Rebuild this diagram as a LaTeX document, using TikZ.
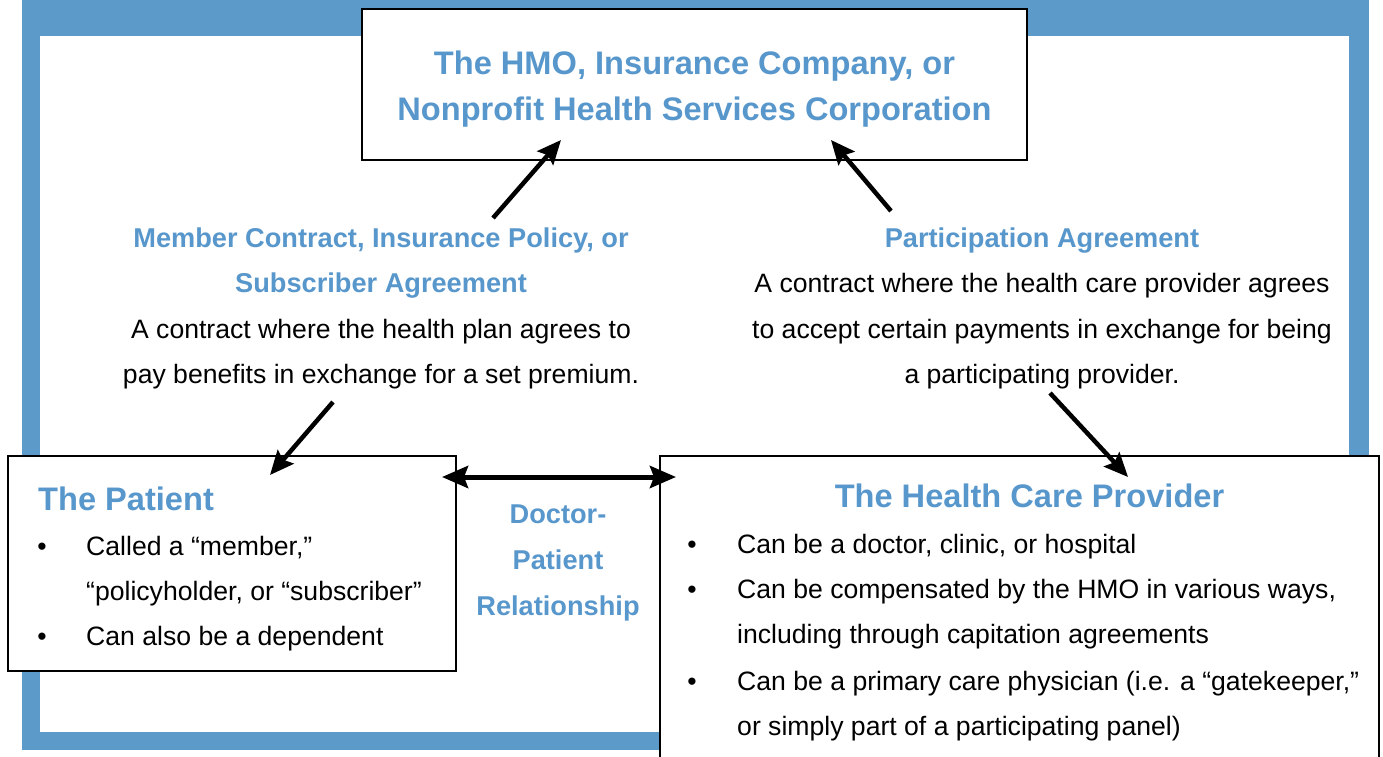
\documentclass[tikz,border=0pt]{standalone}
\usepackage{fontspec}
\setmainfont{Liberation Sans}
\usetikzlibrary{arrows.meta}
\definecolor{frameblue}{RGB}{91,154,201}
\definecolor{textblue}{RGB}{88,151,204}
\begin{document}
\begin{tikzpicture}[x=1pt,y=-1pt,
 box/.style={draw=black,line width=2.2pt,fill=white,inner sep=0pt,outer sep=0pt},
 ttl/.style={inner sep=0pt,anchor=base,text=textblue,font=\fontsize{32.6}{39}\selectfont\bfseries},
 hd/.style={inner sep=0pt,anchor=base,text=textblue,font=\fontsize{27.2}{33}\selectfont\bfseries},
 bd/.style={inner sep=0pt,anchor=base,text=black,font=\fontsize{26.6}{32}\selectfont},
 bdl/.style={bd,anchor=base west},
 arr/.style={line width=4.5pt,-{Stealth[length=24pt,width=21pt,inset=4pt]}},
 darr/.style={line width=5pt,{Stealth[length=26pt,width=22pt,inset=4pt]}-{Stealth[length=26pt,width=22pt,inset=4pt]}},
]
\useasboundingbox (0,0) rectangle (1383,757);
% blue frame
\fill[frameblue] (22,0) rectangle (1369,750);
\fill[white] (40,36) rectangle (1349,732);

% boxes
\node[box,minimum width=665pt,minimum height=151pt] (hmo) at (694.5,84.5) {};
\node[box,minimum width=448pt,minimum height=215pt] (patient) at (232,563.5) {};
\node[box,minimum width=719pt,minimum height=330pt] (provider) at (1019.5,621) {};

% top title
\node[ttl] (t1) at (694.5,75) {The HMO, Insurance Company, or};
\node[ttl] (t2) at (694.5,121) {Nonprofit Health Services Corporation};

% middle left
\node[hd] (m1) at (381,247) {Member Contract, Insurance Policy, or};
\node[hd] (m2) at (381,292) {Subscriber Agreement};
\node[bd] (m3) at (381,338) {A contract where the health plan agrees to};
\node[bd] (m4) at (381,383) {pay benefits in exchange for a set premium.};

% middle right
\node[hd] (r1) at (1042,247) {Participation Agreement};
\node[bd] (r2) at (1042,292) {A contract where the health care provider agrees};
\node[bd] (r3) at (1042,338) {to accept certain payments in exchange for being};
\node[bd] (r4) at (1042,383) {a participating provider.};

% patient
\node[ttl,anchor=base west] (p0) at (38,510) {The Patient};
\node[bd] (pb1) at (42,555) {•};
\node[bd] (pb2) at (42,645) {•};
\node[bdl] (p1) at (86,555) {Called a “member,”};
\node[bdl] (p2) at (86,600) {“policyholder, or “subscriber”};
\node[bdl] (p3) at (86,645) {Can also be a dependent};

% doctor-patient
\node[hd] (dp1) at (558,523) {Doctor-};
\node[hd] (dp2) at (558,569) {Patient};
\node[hd] (dp3) at (558,615) {Relationship};

% provider
\node[ttl] (h0) at (1029.5,507) {The Health Care Provider};
\node[bd] (hb1) at (692,553) {•};
\node[bd] (hb2) at (692,598) {•};
\node[bd] (hb3) at (692,690) {•};
\node[bdl] (h1) at (737,553) {Can be a doctor, clinic, or hospital};
\node[bdl] (h2) at (737,598) {Can be compensated by the HMO in various ways,};
\node[bdl] (h3) at (737,643) {including through capitation agreements};
\node[bdl] (h4) at (737,690) {Can be a primary care physician (i.e. a “gatekeeper,”};
\node[bdl] (h5) at (737,735) {or simply part of a participating panel)};

% arrows
\coordinate (a1s) at (493,218); \coordinate (a1e) at (561,140);
\coordinate (a2s) at (891,211); \coordinate (a2e) at (831,140);
\coordinate (a3s) at (333,402); \coordinate (a3e) at (270,475);
\coordinate (a4s) at (1050,393); \coordinate (a4e) at (1128,477);
\coordinate (d1) at (442,477); \coordinate (d2) at (676,477);
\draw[arr] (a1s) -- (a1e);
\draw[arr] (a2s) -- (a2e);
\draw[arr] (a3s) -- (a3e);
\draw[arr] (a4s) -- (a4e);
\draw[darr] (d1) -- (d2);
\end{tikzpicture}
\end{document}
